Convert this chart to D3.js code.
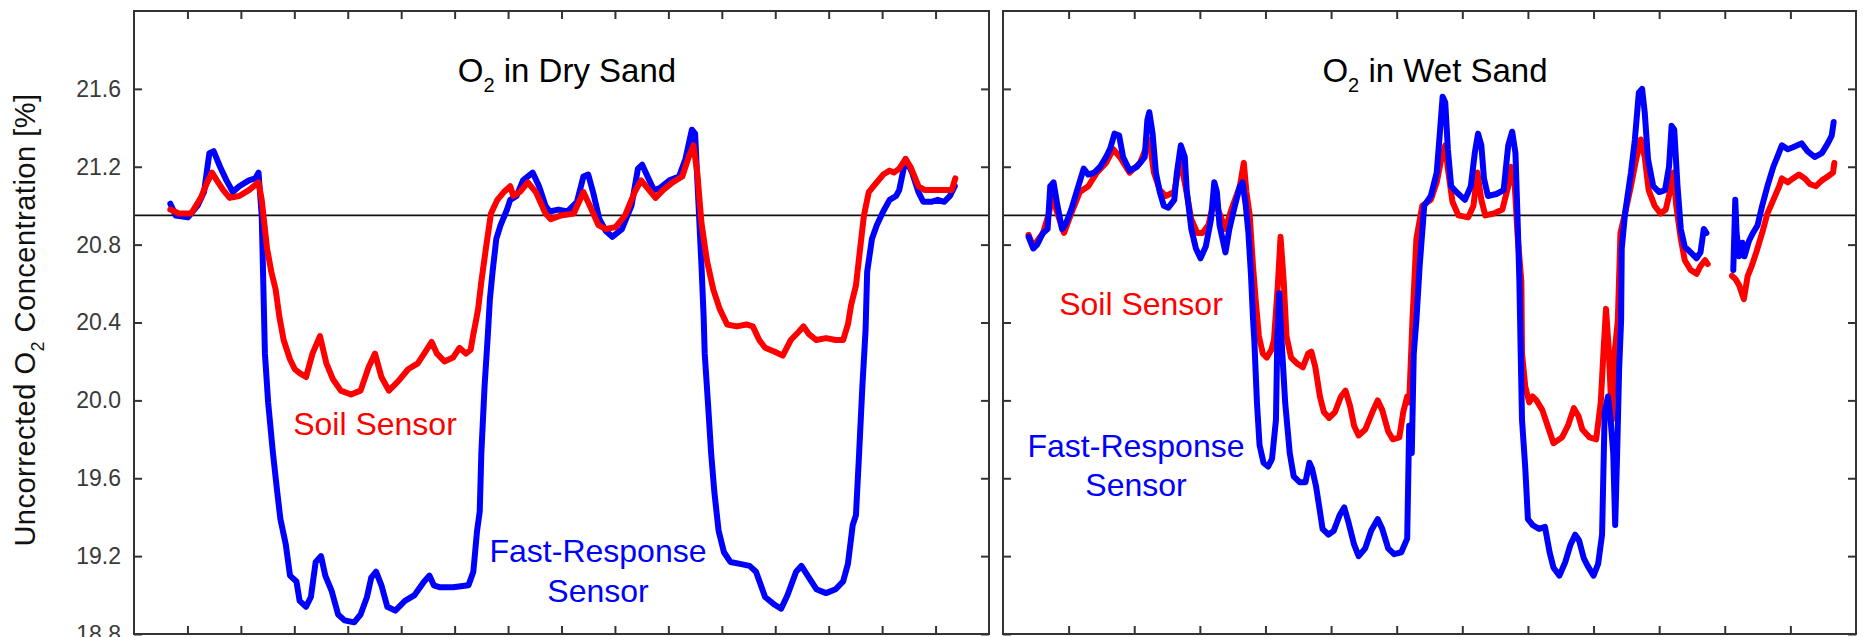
<!DOCTYPE html>
<html>
<head>
<meta charset="utf-8">
<script src="https://cdn.jsdelivr.net/npm/d3@7"></script>
<style>
  html, body { margin: 0; padding: 0; background: #fff; }
  svg { display: block; font-family: "Liberation Sans", Arial, sans-serif; }
</style>
</head>
<body>
<svg id="chart" width="1875" height="637"></svg>
<script>
// ---- data -------------------------------------------------------------
// O2 readings [time (tick units), O2 %]; null marks a logging gap.
const yTicks = [18.8, 19.2, 19.6, 20.0, 20.4, 20.8, 21.2, 21.6];
const yDomain = [18.8, 22.0];
const ambientO2 = 20.95;
const dryTimeTicks = d3.range(1, 16);
const wetTimeTicks = d3.range(1, 13);
const dryTimeSpan = [0, 16];
const wetTimeSpan = [0, 13];
const panelTitles = ["in Dry Sand", "in Wet Sand"];
const seriesNames = ["Soil Sensor", "Fast-Response", "Sensor"];

const dryFast = [
  [0.68,21.01],[0.78,20.95],[1.01,20.94],[1.19,21.0],[1.31,21.07],[1.41,21.27],[1.49,21.28],
  [1.61,21.2],[1.73,21.13],[1.85,21.07],[1.97,21.1],[2.15,21.13],[2.27,21.14],[2.33,21.17],
  [2.39,20.95],[2.45,20.24],[2.51,19.99],[2.6,19.73],[2.68,19.53],[2.74,19.39],[2.84,19.26],
  [2.92,19.1],[3.04,19.07],[3.1,18.97],[3.22,18.94],[3.31,18.99],[3.4,19.17],[3.5,19.2],
  [3.58,19.1],[3.7,19.02],[3.82,18.9],[3.94,18.87],[4.12,18.86],[4.24,18.9],[4.36,18.99],
  [4.44,19.09],[4.53,19.12],[4.63,19.05],[4.74,18.94],[4.89,18.92],[5.07,18.97],[5.25,19.0],
  [5.43,19.07],[5.53,19.1],[5.61,19.05],[5.73,19.04],[5.97,19.04],[6.26,19.05],[6.35,19.12],
  [6.42,19.33],[6.47,19.43],[6.5,19.73],[6.56,20.07],[6.62,20.33],[6.66,20.52],[6.71,20.66],
  [6.78,20.83],[6.86,20.9],[6.98,20.98],[7.04,21.03],[7.16,21.05],[7.28,21.13],[7.46,21.17],
  [7.58,21.1],[7.7,21.0],[7.78,20.97],[7.94,20.98],[8.11,20.97],[8.29,21.02],[8.41,21.15],
  [8.5,21.16],[8.59,21.07],[8.71,20.93],[8.83,20.87],[8.95,20.84],[9.13,20.88],[9.31,21.0],
  [9.43,21.19],[9.51,21.21],[9.61,21.15],[9.73,21.08],[9.84,21.09],[10.02,21.13],[10.2,21.15],
  [10.32,21.24],[10.44,21.39],[10.5,21.37],[10.56,21.03],[10.62,20.69],[10.66,20.43],
  [10.68,20.24],[10.74,19.99],[10.8,19.73],[10.86,19.53],[10.94,19.33],[11.04,19.22],
  [11.16,19.17],[11.34,19.16],[11.52,19.15],[11.64,19.12],[11.81,18.99],[11.99,18.95],
  [12.11,18.93],[12.23,19.0],[12.39,19.12],[12.49,19.15],[12.63,19.09],[12.77,19.03],
  [12.95,19.01],[13.13,19.03],[13.27,19.07],[13.36,19.16],[13.45,19.36],[13.51,19.41],
  [13.57,19.73],[13.63,20.07],[13.69,20.36],[13.72,20.66],[13.81,20.83],[13.9,20.9],
  [14.02,20.97],[14.14,21.03],[14.26,21.05],[14.32,21.08],[14.44,21.24],[14.56,21.17],
  [14.68,21.07],[14.77,21.02],[14.92,21.02],[15.04,21.03],[15.16,21.02],[15.27,21.05],[15.36,21.1]
];

const drySoil = [
  [0.68,20.98],[0.84,20.96],[1.07,20.96],[1.25,21.04],[1.37,21.12],[1.46,21.17],[1.55,21.13],
  [1.67,21.08],[1.79,21.04],[1.97,21.05],[2.15,21.08],[2.33,21.12],[2.39,21.03],[2.49,20.78],
  [2.57,20.66],[2.65,20.57],[2.72,20.43],[2.8,20.31],[2.92,20.21],[3.01,20.16],[3.1,20.14],
  [3.22,20.12],[3.34,20.24],[3.48,20.33],[3.6,20.19],[3.72,20.11],[3.87,20.05],[4.06,20.03],
  [4.24,20.05],[4.39,20.17],[4.51,20.24],[4.63,20.12],[4.77,20.05],[4.95,20.1],[5.13,20.16],
  [5.31,20.19],[5.43,20.24],[5.57,20.3],[5.67,20.24],[5.81,20.2],[5.97,20.22],[6.09,20.27],
  [6.21,20.24],[6.3,20.26],[6.35,20.34],[6.4,20.41],[6.44,20.47],[6.5,20.61],[6.59,20.79],
  [6.68,20.96],[6.8,21.03],[6.92,21.07],[7.04,21.1],[7.1,21.05],[7.22,21.07],[7.37,21.12],
  [7.52,21.07],[7.7,20.96],[7.8,20.93],[7.99,20.95],[8.23,20.96],[8.41,21.07],[8.53,21.0],
  [8.69,20.9],[8.83,20.88],[9.01,20.89],[9.19,20.95],[9.37,21.07],[9.49,21.13],[9.64,21.08],
  [9.76,21.04],[9.9,21.08],[10.08,21.12],[10.26,21.15],[10.38,21.25],[10.47,21.31],[10.54,21.17],
  [10.62,20.91],[10.72,20.72],[10.84,20.57],[10.96,20.47],[11.1,20.39],[11.28,20.38],
  [11.46,20.39],[11.58,20.38],[11.7,20.31],[11.81,20.27],[11.99,20.25],[12.14,20.23],
  [12.29,20.31],[12.43,20.35],[12.53,20.38],[12.63,20.34],[12.77,20.31],[12.95,20.32],
  [13.13,20.31],[13.27,20.31],[13.36,20.39],[13.42,20.49],[13.51,20.59],[13.58,20.76],
  [13.66,20.95],[13.75,21.07],[13.87,21.11],[14.02,21.16],[14.14,21.18],[14.22,21.17],
  [14.32,21.19],[14.44,21.24],[14.53,21.2],[14.68,21.1],[14.8,21.08],[14.98,21.08],
  [15.16,21.08],[15.3,21.08],[15.37,21.14]
];

const wetFast = [
  [0.39,20.84],[0.46,20.78],[0.52,20.8],[0.61,20.86],[0.68,20.88],[0.72,21.1],[0.77,21.12],
  [0.83,21.0],[0.9,20.88],[0.96,20.91],[1.04,20.98],[1.13,21.08],[1.23,21.19],[1.3,21.16],
  [1.39,21.17],[1.48,21.2],[1.57,21.25],[1.63,21.29],[1.7,21.37],[1.77,21.36],[1.83,21.25],
  [1.93,21.18],[2.04,21.2],[2.16,21.25],[2.2,21.44],[2.23,21.48],[2.28,21.37],[2.33,21.17],
  [2.39,21.07],[2.45,21.0],[2.52,20.99],[2.61,21.03],[2.65,21.17],[2.71,21.31],[2.77,21.25],
  [2.8,21.08],[2.87,20.88],[2.94,20.78],[3.01,20.73],[3.09,20.79],[3.17,20.93],[3.22,21.12],
  [3.26,21.07],[3.3,20.9],[3.39,20.76],[3.45,20.88],[3.52,20.98],[3.61,21.1],[3.65,21.12],
  [3.7,21.0],[3.74,20.86],[3.78,20.64],[3.81,20.42],[3.83,20.31],[3.87,19.99],[3.91,19.77],
  [3.97,19.68],[4.04,19.66],[4.1,19.7],[4.16,19.9],[4.18,20.31],[4.21,20.55],[4.24,20.34],
  [4.3,19.99],[4.37,19.73],[4.43,19.61],[4.52,19.58],[4.61,19.58],[4.67,19.68],[4.71,19.65],
  [4.77,19.56],[4.83,19.43],[4.87,19.34],[4.96,19.31],[5.04,19.33],[5.13,19.41],[5.2,19.45],
  [5.26,19.38],[5.35,19.26],[5.42,19.2],[5.52,19.24],[5.61,19.33],[5.71,19.39],[5.78,19.34],
  [5.87,19.24],[5.96,19.21],[6.07,19.22],[6.16,19.29],[6.19,19.87],[6.23,19.73],[6.26,20.24],
  [6.3,20.41],[6.35,20.69],[6.42,21.0],[6.52,21.05],[6.61,21.17],[6.65,21.34],[6.7,21.56],
  [6.74,21.53],[6.78,21.29],[6.83,21.1],[6.91,21.07],[7.04,21.03],[7.13,21.1],[7.19,21.27],
  [7.24,21.37],[7.29,21.31],[7.33,21.14],[7.39,21.05],[7.52,21.06],[7.63,21.08],[7.7,21.31],
  [7.76,21.38],[7.81,21.27],[7.84,20.96],[7.87,20.61],[7.89,20.24],[7.91,19.9],[7.96,19.65],
  [8.0,19.39],[8.07,19.36],[8.17,19.34],[8.26,19.35],[8.33,19.22],[8.39,19.14],[8.48,19.1],
  [8.57,19.17],[8.65,19.26],[8.72,19.31],[8.78,19.28],[8.85,19.19],[8.91,19.15],[9.0,19.1],
  [9.07,19.16],[9.13,19.31],[9.17,19.94],[9.22,20.02],[9.26,19.9],[9.3,19.73],[9.33,19.36],
  [9.36,19.73],[9.39,20.16],[9.42,20.41],[9.43,20.78],[9.48,20.96],[9.57,21.17],[9.63,21.34],
  [9.69,21.58],[9.74,21.6],[9.78,21.48],[9.83,21.24],[9.91,21.1],[10.0,21.07],[10.09,21.08],
  [10.15,21.2],[10.19,21.41],[10.23,21.39],[10.28,21.1],[10.33,20.88],[10.39,20.79],
  [10.48,20.76],[10.57,20.73],[10.63,20.76],[10.68,20.88],[10.72,20.86],[10.9,null],
  [11.13,20.67],[11.16,21.03],[11.18,20.86],[11.22,20.74],[11.27,20.81],[11.3,20.74],
  [11.37,20.82],[11.43,20.86],[11.5,20.9],[11.57,21.0],[11.65,21.1],[11.74,21.2],[11.8,21.25],
  [11.87,21.31],[11.96,21.29],[12.04,21.3],[12.17,21.32],[12.26,21.28],[12.37,21.25],
  [12.48,21.27],[12.57,21.32],[12.63,21.36],[12.66,21.43]
];

const wetSoil = [
  [0.39,20.85],[0.46,20.79],[0.61,20.86],[0.7,20.96],[0.75,21.05],[0.83,20.96],[0.93,20.86],
  [1.04,20.96],[1.17,21.07],[1.3,21.1],[1.43,21.17],[1.57,21.22],[1.68,21.29],[1.78,21.25],
  [1.93,21.17],[2.09,21.22],[2.23,21.34],[2.3,21.17],[2.39,21.08],[2.48,21.05],[2.61,21.07],
  [2.7,21.24],[2.78,21.1],[2.87,20.93],[2.96,20.86],[3.04,20.86],[3.13,20.9],[3.22,21.03],
  [3.3,20.96],[3.39,20.88],[3.48,20.98],[3.61,21.1],[3.67,21.22],[3.71,21.07],[3.76,20.95],
  [3.81,20.69],[3.85,20.52],[3.9,20.33],[3.96,20.24],[4.02,20.22],[4.09,20.26],[4.13,20.31],
  [4.19,20.6],[4.23,20.84],[4.28,20.6],[4.32,20.33],[4.39,20.22],[4.48,20.19],[4.57,20.17],
  [4.65,20.24],[4.7,20.25],[4.76,20.17],[4.83,20.02],[4.89,19.94],[4.97,19.91],[5.06,19.94],
  [5.15,20.02],[5.22,20.05],[5.29,19.97],[5.35,19.87],[5.42,19.82],[5.52,19.85],[5.63,19.94],
  [5.71,20.0],[5.78,19.95],[5.87,19.84],[5.94,19.8],[6.04,19.81],[6.1,19.94],[6.16,20.02],
  [6.19,19.99],[6.22,20.24],[6.24,20.41],[6.3,20.83],[6.39,21.0],[6.52,21.03],[6.61,21.12],
  [6.68,21.24],[6.74,21.31],[6.78,21.19],[6.85,21.02],[6.94,20.95],[7.09,20.94],[7.17,21.0],
  [7.23,21.17],[7.29,21.03],[7.35,20.95],[7.48,20.96],[7.61,20.98],[7.7,21.1],[7.74,21.2],
  [7.8,21.1],[7.84,20.86],[7.9,20.61],[7.91,20.24],[7.96,20.07],[8.02,19.99],[8.07,20.02],
  [8.13,20.0],[8.22,19.95],[8.3,19.87],[8.39,19.78],[8.52,19.81],[8.61,19.87],[8.7,19.96],
  [8.77,19.92],[8.83,19.85],[8.94,19.81],[9.04,19.8],[9.11,19.99],[9.15,20.24],[9.19,20.47],
  [9.23,20.27],[9.28,19.9],[9.32,20.24],[9.37,20.41],[9.41,20.86],[9.48,20.96],[9.57,21.1],
  [9.65,21.24],[9.72,21.34],[9.78,21.25],[9.84,21.08],[9.93,21.0],[10.02,20.96],[10.1,20.98],
  [10.17,21.08],[10.22,21.17],[10.26,21.0],[10.33,20.83],[10.39,20.72],[10.48,20.67],
  [10.57,20.65],[10.63,20.69],[10.7,20.72],[10.74,20.7],[10.9,null],
  [11.11,20.64],[11.17,20.62],[11.22,20.59],[11.29,20.52],[11.35,20.64],[11.41,20.69],
  [11.48,20.76],[11.57,20.86],[11.65,20.96],[11.74,21.03],[11.83,21.1],[11.87,21.14],
  [11.96,21.12],[12.04,21.14],[12.13,21.16],[12.22,21.14],[12.3,21.11],[12.39,21.1],
  [12.48,21.13],[12.57,21.15],[12.65,21.17],[12.67,21.22]
];

// ---- layout -----------------------------------------------------------
const RED = "#ff0000", BLUE = "#0000ff";
const plotTop = 11, plotBottom = 634;
const panels = [
  { x0: 134, x1: 989, span: dryTimeSpan, ticks: dryTimeTicks, title: panelTitles[0],
    titleX: 567, fast: dryFast, soil: drySoil, soilOnTop: true, labels: true,
    soilLabel: [375, 435], fastLabel: [598, 562, 602] },
  { x0: 1003, x1: 1856, span: wetTimeSpan, ticks: wetTimeTicks, title: panelTitles[1],
    titleX: 1435, fast: wetFast, soil: wetSoil, soilOnTop: false, labels: false,
    soilLabel: [1141, 315], fastLabel: [1136, 457, 496] }
];

const svg = d3.select("#chart");
const y = d3.scaleLinear().domain(yDomain).range([plotBottom, plotTop]);

panels.forEach(p => {
  const x = d3.scaleLinear().domain(p.span).range([p.x0, p.x1]);
  const g = svg.append("g");

  const line = d3.line()
    .defined(d => d[1] != null)
    .x(d => x(d[0])).y(d => y(d[1]));

  // ambient reference level
  g.append("line")
    .attr("x1", p.x0).attr("x2", p.x1)
    .attr("y1", y(ambientO2)).attr("y2", y(ambientO2))
    .attr("stroke", "#111").attr("stroke-width", 1.6);

  const order = p.soilOnTop
    ? [[p.fast, BLUE], [p.soil, RED]]
    : [[p.soil, RED], [p.fast, BLUE]];
  order.forEach(([data, col]) => {
    g.append("path").datum(data)
      .attr("d", line)
      .attr("fill", "none")
      .attr("stroke", col)
      .attr("stroke-width", 6)
      .attr("stroke-linejoin", "round")
      .attr("stroke-linecap", "round");
  });

  // inward ticks on all four sides
  const styleAxis = sel => {
    sel.select(".domain").remove();
    sel.selectAll(".tick line").attr("stroke", "#333").attr("stroke-width", 2);
    sel.selectAll(".tick text")
      .attr("fill", "#3a3a3a")
      .style("font-family", "'Liberation Sans', Arial, sans-serif")
      .style("font-size", "23px");
  };
  g.append("g").attr("transform", `translate(${p.x0},0)`)
    .call(d3.axisLeft(y).tickValues(yTicks).tickSizeInner(-8).tickSizeOuter(0)
      .tickPadding(13).tickFormat(p.labels ? d3.format(".1f") : ""))
    .call(styleAxis);
  g.append("g").attr("transform", `translate(${p.x1},0)`)
    .call(d3.axisRight(y).tickValues(yTicks).tickSizeInner(-8).tickSizeOuter(0).tickFormat(""))
    .call(styleAxis);
  g.append("g").attr("transform", `translate(0,${plotTop})`)
    .call(d3.axisTop(x).tickValues(p.ticks).tickSizeInner(-8).tickSizeOuter(0).tickFormat(""))
    .call(styleAxis);
  g.append("g").attr("transform", `translate(0,${plotBottom})`)
    .call(d3.axisBottom(x).tickValues(p.ticks).tickSizeInner(-8).tickSizeOuter(0).tickFormat(""))
    .call(styleAxis);

  // frame
  g.append("rect")
    .attr("x", p.x0).attr("y", plotTop)
    .attr("width", p.x1 - p.x0).attr("height", plotBottom - plotTop)
    .attr("fill", "none").attr("stroke", "#333").attr("stroke-width", 2);

  // panel title with subscript
  const t = g.append("text")
    .attr("x", p.titleX).attr("y", 82)
    .attr("text-anchor", "middle")
    .attr("fill", "#000")
    .style("font-size", "33px");
  t.append("tspan").text("O");
  t.append("tspan").attr("dy", 10).style("font-size", "20px").text("2");
  t.append("tspan").attr("dy", -10).text(" " + p.title);

  // series labels
  g.append("text")
    .attr("x", p.soilLabel[0]).attr("y", p.soilLabel[1])
    .attr("text-anchor", "middle").attr("fill", RED)
    .style("font-size", "32px").text(seriesNames[0]);
  g.append("text")
    .attr("x", p.fastLabel[0]).attr("y", p.fastLabel[1])
    .attr("text-anchor", "middle").attr("fill", BLUE)
    .style("font-size", "32px").text(seriesNames[1]);
  g.append("text")
    .attr("x", p.fastLabel[0]).attr("y", p.fastLabel[2])
    .attr("text-anchor", "middle").attr("fill", BLUE)
    .style("font-size", "32px").text(seriesNames[2]);
});

// y-axis title
const yt = svg.append("text")
  .attr("transform", "translate(35,320) rotate(-90)")
  .attr("text-anchor", "middle")
  .attr("fill", "#111")
  .style("font-size", "29px")
  .style("letter-spacing", "0.5px");
yt.append("tspan").text("Uncorrected O");
yt.append("tspan").attr("dy", 9).style("font-size", "18px").text("2");
yt.append("tspan").attr("dy", -9).text(" Concentration [%]");
</script>
</body>
</html>
